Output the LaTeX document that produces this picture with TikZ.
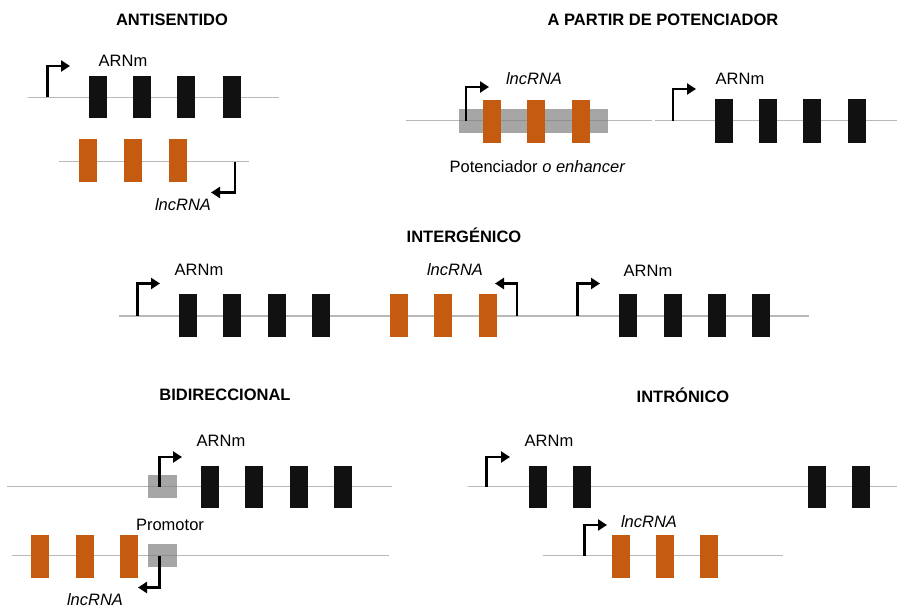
\documentclass[tikz,border=0pt]{standalone}
\usepackage{fontspec}
\setmainfont{Liberation Sans}
\usetikzlibrary{arrows.meta}
\definecolor{exorange}{HTML}{C55A11}
\definecolor{exblack}{HTML}{111111}
\definecolor{dnagray}{HTML}{B8B8B8}
\begin{document}
\begin{tikzpicture}[x=1pt,y=-1pt,
  exonk/.style={rectangle, fill=exblack, minimum width=18pt, minimum height=42pt, inner sep=0pt},
  exono/.style={rectangle, fill=exorange, minimum width=18pt, minimum height=43pt, inner sep=0pt},
  dna/.style={draw=dnagray, line width=1.4pt},
  prom/.style={draw=black, line width=2.7pt, line join=miter, -{Triangle[length=9pt,width=11pt]}},
  regbox/.style={rectangle, fill=black!50, opacity=0.7, inner sep=0pt},
  ttl/.style={font=\fontsize{16.5}{19}\selectfont\bfseries, inner sep=0pt},
  lab/.style={font=\fontsize{16.5}{19}\selectfont, inner sep=0pt},
  ilab/.style={font=\fontsize{16.5}{19}\selectfont\itshape, inner sep=0pt}]
\useasboundingbox (0,0) rectangle (897,609);

% ===== ANTISENTIDO =====
\node[ttl] (t1) at (172,20) {ANTISENTIDO};
\coordinate (l1a) at (28,97.5); \coordinate (l1b) at (279,97.5);
\draw[dna] (l1a) -- (l1b);
\coordinate (l2a) at (59,161.7); \coordinate (l2b) at (249,161.7);
\draw[dna] (l2a) -- (l2b);
\coordinate (p1s) at (47.7,97.5); \coordinate (p1c) at (47.7,66); \coordinate (p1e) at (70,66);
\draw[prom] (p1s) -- (p1c) -- (p1e);
\coordinate (p2s) at (235,161.7); \coordinate (p2c) at (235,192.5); \coordinate (p2e) at (211,192.5);
\draw[prom] (p2s) -- (p2c) -- (p2e);
\node[exonk] (a1) at (97.5,97) {};
\node[exonk] (a2) at (142,97) {};
\node[exonk] (a3) at (186,97) {};
\node[exonk] (a4) at (231.5,97) {};
\node[exono] (ao1) at (88,160.5) {};
\node[exono] (ao2) at (133,160.5) {};
\node[exono] (ao3) at (177.5,160.5) {};
\node[lab] (am) at (123,61) {ARNm};
\node[ilab] (al) at (183,205) {lncRNA};

% ===== A PARTIR DE POTENCIADOR =====
\node[ttl] (t2) at (663,20) {A PARTIR DE POTENCIADOR};
\coordinate (l3a) at (406,120.7); \coordinate (l3b) at (652,120.7);
\draw[dna] (l3a) -- (l3b);
\coordinate (l4a) at (655,120.7); \coordinate (l4b) at (897,120.7);
\draw[dna] (l4a) -- (l4b);
\node[regbox, minimum width=149pt, minimum height=24pt] (enh) at (533.5,121) {};
\coordinate (p3s) at (466,120.7); \coordinate (p3c) at (466,87); \coordinate (p3e) at (489,87);
\draw[prom] (p3s) -- (p3c) -- (p3e);
\coordinate (p4s) at (673,120.7); \coordinate (p4c) at (673,89); \coordinate (p4e) at (696,89);
\draw[prom] (p4s) -- (p4c) -- (p4e);
\node[exono] (bo1) at (492,121.5) {};
\node[exono] (bo2) at (536,121.5) {};
\node[exono] (bo3) at (581,121.5) {};
\node[exonk, minimum height=44pt] (b1) at (723.5,121) {};
\node[exonk, minimum height=44pt] (b2) at (768,121) {};
\node[exonk, minimum height=44pt] (b3) at (812,121) {};
\node[exonk, minimum height=44pt] (b4) at (857,121) {};
\node[ilab] (bl) at (534,79) {lncRNA};
\node[lab] (bm) at (740,79) {ARNm};
\node[lab] (be) at (537.5,167) {Potenciador \textit{o enhancer}};

% ===== INTERGÉNICO =====
\node[ttl] (t3) at (464,235) {INTERGÉNICO};
\coordinate (l5a) at (119,316); \coordinate (l5b) at (809,316);
\draw[dna] (l5a) -- (l5b);
\coordinate (p5s) at (137.6,316); \coordinate (p5c) at (137.6,283.5); \coordinate (p5e) at (160,283.5);
\draw[prom] (p5s) -- (p5c) -- (p5e);
\coordinate (p6s) at (517,316); \coordinate (p6c) at (517,283.5); \coordinate (p6e) at (495,283.5);
\draw[prom] (p6s) -- (p6c) -- (p6e);
\coordinate (p7s) at (577.5,316); \coordinate (p7c) at (577.5,283.5); \coordinate (p7e) at (600,283.5);
\draw[prom] (p7s) -- (p7c) -- (p7e);
\node[exonk, minimum height=43pt] (c1) at (188,315.5) {};
\node[exonk, minimum height=43pt] (c2) at (232,315.5) {};
\node[exonk, minimum height=43pt] (c3) at (277,315.5) {};
\node[exonk, minimum height=43pt] (c4) at (321,315.5) {};
\node[exono] (co1) at (398.5,315.5) {};
\node[exono] (co2) at (443,315.5) {};
\node[exono] (co3) at (487.5,315.5) {};
\node[exonk, minimum height=43pt] (c5) at (628,315.5) {};
\node[exonk, minimum height=43pt] (c6) at (672.5,315.5) {};
\node[exonk, minimum height=43pt] (c7) at (716.5,315.5) {};
\node[exonk, minimum height=43pt] (c8) at (761,315.5) {};
\node[lab] (cm1) at (199,270) {ARNm};
\node[ilab] (cl) at (455,270) {lncRNA};
\node[lab] (cm2) at (648,271) {ARNm};

% ===== BIDIRECCIONAL =====
\node[ttl] (t4) at (225,395) {BIDIRECCIONAL};
\coordinate (l6a) at (7,486.7); \coordinate (l6b) at (392,486.7);
\draw[dna] (l6a) -- (l6b);
\coordinate (l7a) at (12,555.7); \coordinate (l7b) at (389,555.7);
\draw[dna] (l7a) -- (l7b);
\node[regbox, minimum width=29pt, minimum height=23pt] (pr1) at (162.5,486.7) {};
\node[regbox, minimum width=29pt, minimum height=23pt] (pr2) at (162.5,555.7) {};
\coordinate (p8s) at (159.3,486.7); \coordinate (p8c) at (159.3,457); \coordinate (p8e) at (182,457);
\draw[prom] (p8s) -- (p8c) -- (p8e);
\coordinate (p9s) at (159.3,555.7); \coordinate (p9c) at (159.3,587.5); \coordinate (p9e) at (138,587.5);
\draw[prom] (p9s) -- (p9c) -- (p9e);
\node[exonk] (d1) at (209.5,487) {};
\node[exonk] (d2) at (254,487) {};
\node[exonk] (d3) at (298.5,487) {};
\node[exonk] (d4) at (343,487) {};
\node[exono] (do1) at (40,556) {};
\node[exono] (do2) at (84.5,556) {};
\node[exono] (do3) at (128.5,556) {};
\node[lab] (dm) at (221,441) {ARNm};
\node[lab] (dp) at (170,525) {Promotor};
\node[ilab] (dl) at (95,600) {lncRNA};

% ===== INTRÓNICO =====
\node[ttl] (t5) at (683,395) {INTRÓNICO};
\coordinate (l8a) at (468,486.7); \coordinate (l8b) at (897,486.7);
\draw[dna] (l8a) -- (l8b);
\coordinate (l9a) at (542.7,555.7); \coordinate (l9b) at (782.7,555.7);
\draw[dna] (l9a) -- (l9b);
\coordinate (p10s) at (486.7,486.7); \coordinate (p10c) at (486.7,457); \coordinate (p10e) at (510,457);
\draw[prom] (p10s) -- (p10c) -- (p10e);
\coordinate (p11s) at (584.3,555.7); \coordinate (p11c) at (584.3,525); \coordinate (p11e) at (607,525);
\draw[prom] (p11s) -- (p11c) -- (p11e);
\node[exonk] (e1) at (537.5,487) {};
\node[exonk] (e2) at (582,487) {};
\node[exonk] (e3) at (816.5,487) {};
\node[exonk] (e4) at (861,487) {};
\node[exono] (eo1) at (620.5,556) {};
\node[exono] (eo2) at (665,556) {};
\node[exono] (eo3) at (709,556) {};
\node[lab] (em) at (549,441) {ARNm};
\node[ilab] (el) at (649,521.7) {lncRNA};
\end{tikzpicture}
\end{document}
